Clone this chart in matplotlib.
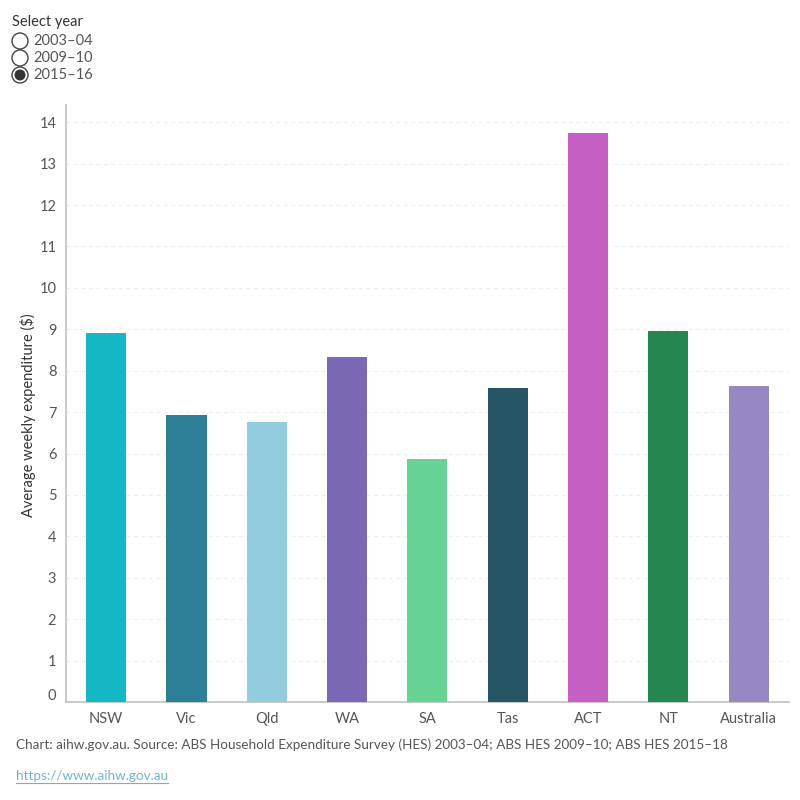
import matplotlib.pyplot as plt
import matplotlib.transforms as mtransforms
from matplotlib.patches import Circle

states = ["NSW", "Vic", "Qld", "WA", "SA", "Tas", "ACT", "NT", "Australia"]
values = [8.91, 6.93, 6.76, 8.33, 5.87, 7.58, 13.74, 8.96, 7.63]
colors = ["#14B8C4", "#2C7F96", "#92CCDE", "#7B68B5", "#66D394",
          "#265666", "#C55FC4", "#25874F", "#9788C4"]
years = ["2003–04", "2009–10", "2015–16"]
selected = "2015–16"
yticks = list(range(0, 15))

plt.rcParams['font.family'] = ['Lato', 'DejaVu Sans']

fig = plt.figure(figsize=(8, 8), dpi=100)
ax = fig.add_axes([0.0825, 0.1225, 0.9035, 0.7465])

ax.bar(range(len(states)), values, width=0.5, color=colors, zorder=3)
ax.set_xlim(-0.5, len(states) - 0.5)
ax.set_ylim(0, 14.42)

ax.set_yticks(yticks)
ax.set_xticks(range(len(states)))
ax.set_xticklabels(states)
ax.tick_params(length=0, colors="#555555", labelsize=10.5)
ax.tick_params(axis="y", pad=7)
ax.tick_params(axis="x", pad=7)

# lift the 0 label like the original
lbl0 = ax.get_yticklabels()[0]
lbl0.set_transform(lbl0.get_transform() + mtransforms.ScaledTranslation(0, 8 / 100, fig.dpi_scale_trans))

for t in yticks[1:]:
    ax.axhline(t, color="#efefef", lw=0.9, ls=(0, (3, 3)), zorder=1)

for s in ["top", "right"]:
    ax.spines[s].set_visible(False)
for s in ["left", "bottom"]:
    ax.spines[s].set_color("#c0c0c0")
    ax.spines[s].set_linewidth(1.2)

ax.set_ylabel("Average weekly expenditure ($)", fontsize=10.5, color="#333333")
ax.yaxis.set_label_coords(-0.041, 0.48)

# year selector
fig.text(12 / 800, 1 - 22 / 800, "Select year", fontsize=10.5, color="#333333", va="center")
for i, yr in enumerate(years):
    yc = 1 - (41 + 17 * i) / 800
    fig.patches.append(Circle((20 / 800, yc), 8 / 800, transform=fig.transFigure,
                              facecolor="white", edgecolor="#444444", lw=1))
    if yr == selected:
        fig.patches.append(Circle((20 / 800, yc), 5.5 / 800, transform=fig.transFigure,
                                  facecolor="#333333", edgecolor="none"))
    fig.text(33 / 800, yc, yr, fontsize=10.5, color="#555555", va="center")

fig.text(16 / 800, 1 - 745 / 800,
         "Chart: aihw.gov.au. Source: ABS Household Expenditure Survey (HES) 2003–04; ABS HES 2009–10; ABS HES 2015–18",
         fontsize=9.7, color="#555555", va="center")
link = fig.text(16 / 800, 1 - 776 / 800, "https://www.aihw.gov.au",
                fontsize=9.7, color="#6BB3D6", va="center")
fig.canvas.draw()
bb = link.get_window_extent()
fig.add_artist(plt.Line2D([bb.x0 / 800, bb.x1 / 800], [(bb.y0 - 1) / 800] * 2,
                          transform=fig.transFigure, color="#6BB3D6", lw=0.8))

fig.savefig("out.png", dpi=100)
